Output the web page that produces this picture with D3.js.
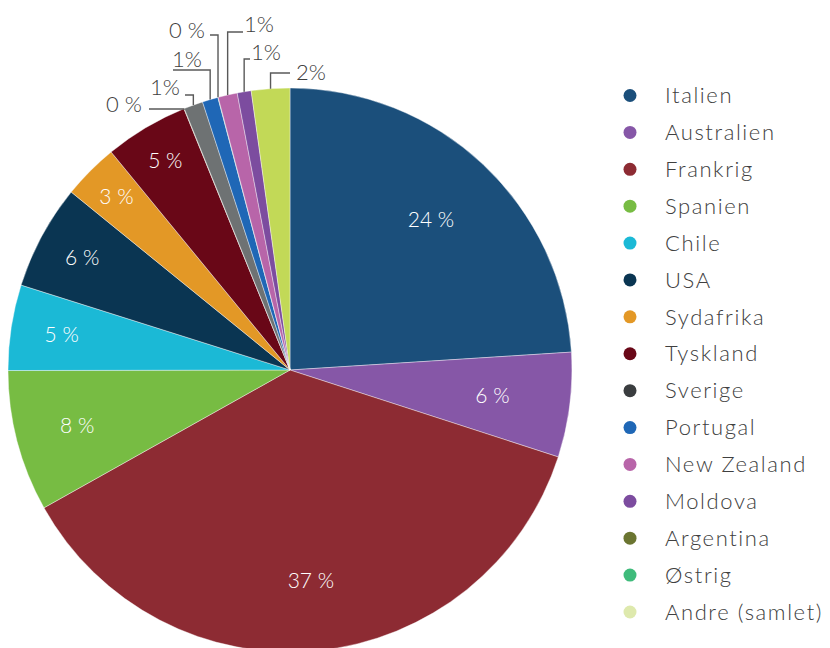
<!DOCTYPE html>
<html>
<head>
<meta charset="utf-8">
<script src="https://cdn.jsdelivr.net/npm/d3@7"></script>
<style>
  body { margin: 0; background: #fff; }
  svg { display: block; font-family: Lato, "Open Sans", sans-serif; font-weight: 300; }
</style>
</head>
<body>
<svg></svg>
<script>
// legend order
const countries = ["Italien", "Australien", "Frankrig", "Spanien", "Chile", "USA", "Sydafrika",
  "Tyskland", "Sverige", "Portugal", "New Zealand", "Moldova", "Argentina", "Østrig", "Andre (samlet)"];
const shares = [24.0, 6.0, 36.9, 8.1, 4.9, 6.0, 3.2, 4.8, 1.1, 0.9, 1.1, 0.8, 0.02, 0.02, 2.2];
const shareLabels = ["24 %", "6 %", "37 %", "8 %", "5 %", "6 %", "3 %", "5 %",
  "1%", "1%", "1%", "1%", "0 %", "0 %", "2%"];
// order the slices run clockwise from 12 o'clock
const sliceOrder = ["Italien", "Australien", "Frankrig", "Spanien", "Chile", "USA", "Sydafrika",
  "Tyskland", "Argentina", "Sverige", "Portugal", "Østrig", "New Zealand", "Moldova", "Andre (samlet)"];

const pieColors = ["#1b4f7b", "#8657a7", "#8d2b33", "#77bc43", "#1bb9d6", "#0a3552", "#e39826",
  "#690717", "#6e7273", "#1f67b6", "#b865a9", "#7c4c9f", "#6b7531", "#3fbb7b", "#c2d957"];
const legendColors = ["#1b4f7b", "#8657a7", "#8d2b33", "#77bc43", "#1bb9d6", "#0a3552", "#e39826",
  "#690717", "#3a3d3f", "#1f67b6", "#b865a9", "#7c4c9f", "#6b7531", "#3fbb7b", "#dee9ad"];

const width = 830, height = 648;
const cx = 290, cy = 370, radius = 282;

// label placement (layout only)
const insideR = {"Italien": 206, "Australien": 204, "Frankrig": 212, "Spanien": 220,
  "Chile": 231, "USA": 236, "Sydafrika": 245, "Tyskland": 244};
const callouts = {
  "Argentina":      {tx: 142, ty: 112, anchor: "end",   ly: 109, lx: 149},
  "Sverige":        {tx: 180, ty: 95,  anchor: "end",   ly: 95,  lx: 185},
  "Portugal":       {tx: 172, ty: 67,  anchor: "start", ly: 70,  lx: 173},
  "Østrig":         {tx: 205, ty: 38,  anchor: "end",   ly: 35,  lx: 210},
  "New Zealand":    {tx: 244, ty: 32,  anchor: "start", ly: 32,  lx: 243},
  "Moldova":        {tx: 251, ty: 60,  anchor: "start", ly: 59,  lx: 250},
  "Andre (samlet)": {tx: 296, ty: 80,  anchor: "start", ly: 73,  lx: 290}
};

const data = countries.map((name, i) => ({name, share: shares[i], label: shareLabels[i]}))
  .sort((a, b) => sliceOrder.indexOf(a.name) - sliceOrder.indexOf(b.name));

const pieColor = d3.scaleOrdinal().domain(countries).range(pieColors);
const legendColor = d3.scaleOrdinal().domain(countries).range(legendColors);

const svg = d3.select("svg")
  .attr("width", width)
  .attr("height", height);

const pie = d3.pie().value(d => d.share).sort(null);
const arc = d3.arc().innerRadius(0).outerRadius(radius);
const arcs = pie(data);

const g = svg.append("g")
  .attr("transform", "translate(" + cx + "," + cy + ")");

g.selectAll("path.slice")
  .data(arcs)
  .enter().append("path")
  .attr("class", "slice")
  .attr("d", arc)
  .attr("fill", d => pieColor(d.data.name))
  .attr("stroke", "#fff")
  .attr("stroke-width", 0.4);

// labels inside the big slices
g.selectAll("text.inside")
  .data(arcs.filter(d => insideR[d.data.name]))
  .enter().append("text")
  .attr("class", "inside")
  .attr("transform", d => {
    const r = insideR[d.data.name];
    return "translate(" + d3.arc().innerRadius(r).outerRadius(r).centroid(d) + ")";
  })
  .attr("text-anchor", "middle")
  .attr("dy", "0.35em")
  .attr("fill", "#fff")
  .style("font-size", "21px")
  .text(d => d.data.label);

// callouts for the small slices
const small = arcs.filter(d => callouts[d.data.name]);
const arcPoint = d => {
  const a = (d.startAngle + d.endAngle) / 2;
  return [cx + radius * Math.sin(a), cy - radius * Math.cos(a)];
};

svg.selectAll("path.leader")
  .data(small)
  .enter().append("path")
  .attr("class", "leader")
  .attr("fill", "none")
  .attr("stroke", "#595959")
  .attr("stroke-width", 1.4)
  .attr("d", d => {
    const c = callouts[d.data.name];
    const p = arcPoint(d);
    return d3.line()([[c.lx, c.ly], [p[0], c.ly], p]);
  });

svg.selectAll("text.outside")
  .data(small)
  .enter().append("text")
  .attr("class", "outside")
  .attr("x", d => callouts[d.data.name].tx)
  .attr("y", d => callouts[d.data.name].ty)
  .attr("text-anchor", d => callouts[d.data.name].anchor)
  .attr("fill", "#404040")
  .style("font-size", "22px")
  .text(d => d.data.label);

// legend
const ly = d3.scalePoint().domain(countries).range([95.5, 612]);
const legend = svg.append("g").selectAll("g")
  .data(countries)
  .enter().append("g")
  .attr("transform", d => "translate(0," + ly(d) + ")");

legend.append("circle")
  .attr("cx", 630)
  .attr("r", 6.5)
  .attr("fill", d => legendColor(d));

legend.append("text")
  .attr("x", 665)
  .attr("dy", "0.35em")
  .attr("fill", "#404040")
  .style("font-size", "22px")
  .style("letter-spacing", "1.6px")
  .text(d => d);
</script>
</body>
</html>
